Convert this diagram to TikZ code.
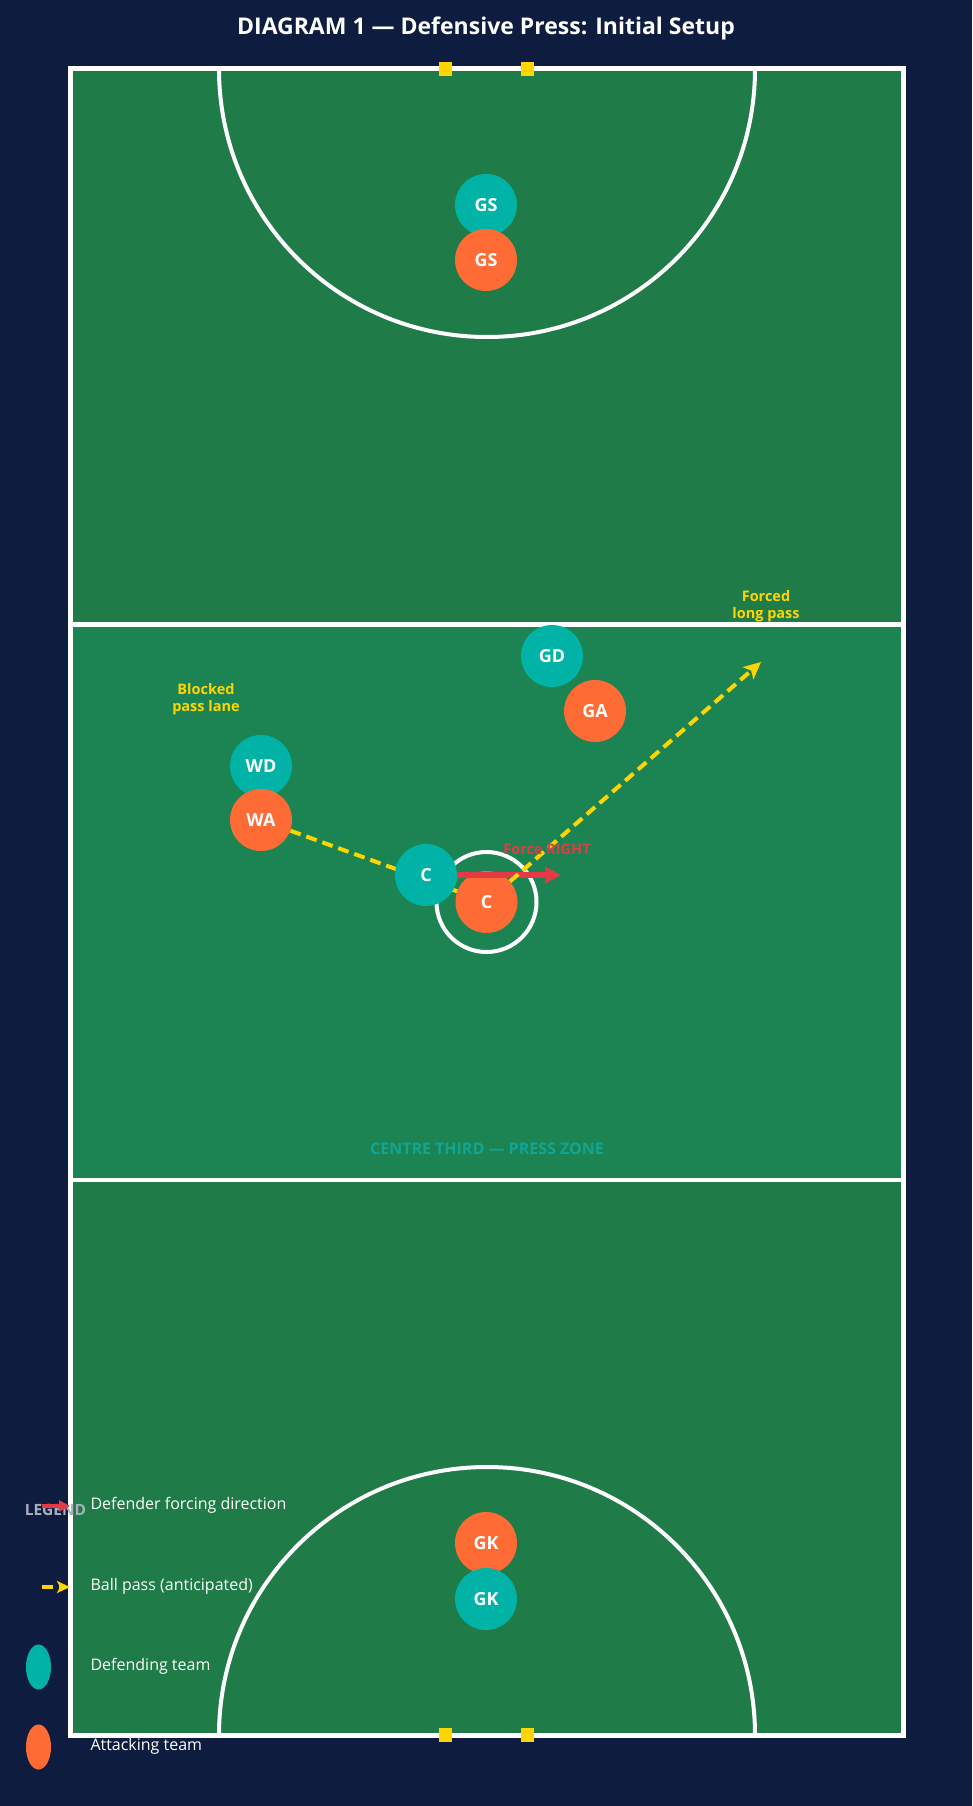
\documentclass[tikz,border=0pt]{standalone}
\usepackage{fontspec}
\setmainfont{Open Sans}
\usepackage{tikz}
\usetikzlibrary{arrows.meta}
\usetikzlibrary{positioning}

\definecolor{navy}{HTML}{0E1C3F}
\definecolor{courtgreen}{HTML}{1F7B47}
\definecolor{centregreen}{HTML}{1B8452}
\definecolor{defteal}{HTML}{00B3A6}
\definecolor{attorange}{HTML}{FF6B35}
\definecolor{passyellow}{HTML}{FFD500}
\definecolor{forcered}{HTML}{E63946}
\definecolor{zoneteal}{HTML}{12A596}
\definecolor{legendgrey}{HTML}{A9B0BC}

\pgfdeclarelayer{court}
\pgfdeclarelayer{lanes}
\pgfsetlayers{court,lanes,main}

\tikzset{
  defender/.style={fill=defteal},
  attacker/.style={fill=attorange},
  pass/.style={draw=passyellow, line width=4pt, dash pattern=on 11pt off 6pt},
  passtip/.style={-{Stealth[length=17pt,width=16pt,inset=4pt]}},
  force/.style={draw=forcered, line width=5.5pt, -{Triangle[length=16pt,width=16pt]}},
  note/.style={font=\bfseries\fontsize{14.5}{16.5}\selectfont, align=center},
  legtext/.style={anchor=west, text=white, font=\fontsize{16}{19}\selectfont},
}

\begin{document}
\begin{tikzpicture}[x=1pt, y=-1pt]
	\useasboundingbox (0,0) rectangle (972,1806);

	% court and markings
	\begin{pgfonlayer}{court}
		\fill[navy] (0,0) rectangle (972,1806);
		\fill[courtgreen] (70.5,69) rectangle (903.5,624.5);
		\fill[centregreen] (70.5,624.5) rectangle (903.5,1180);
		\fill[courtgreen] (70.5,1180) rectangle (903.5,1735);
		\begin{scope}
			\clip (70.5,69) rectangle (903.5,1735);
			\draw[white, line width=4pt] (487,69) circle[radius=268pt];
			\draw[white, line width=4pt] (487,1735) circle[radius=268pt];
		\end{scope}
		\draw[white, line width=4pt] (486.5,902) circle[radius=50pt];
		\draw[white, line width=4.5pt] (70.5,624.5) -- (903.5,624.5);
		\draw[white, line width=4.5pt] (70.5,1180) -- (903.5,1180);
		\draw[white, line width=5pt] (70.5,69) rectangle (903.5,1735);
		\foreach \px in {445,527} {
			\fill[passyellow] (\px-6.5,62) rectangle (\px+6.5,76);
			\fill[passyellow] (\px-6.5,1728) rectangle (\px+6.5,1742);
		}
	\end{pgfonlayer}

	\node[text=white, font=\bfseries\fontsize{23}{27}\selectfont] (title) at (486,28)
		{DIAGRAM 1 — Defensive Press: Initial Setup};
	\node[text=zoneteal, font=\bfseries\fontsize{16}{18}\selectfont] (zone) at (487,1149)
		{CENTRE THIRD — PRESS ZONE};

	% players
	\begin{scope}[every node/.style={circle, minimum size=62pt, inner sep=0pt,
	              text=white, font=\bfseries\fontsize{18}{20}\selectfont}]
		\node[defender] (dGS) at (486,205) {GS};
		\node[attacker] (aGS) at (486,260) {GS};
		\node[defender] (dGD) at (552,656) {GD};
		\node[attacker] (aGA) at (595,711) {GA};
		\node[defender] (dWD) at (261,766) {WD};
		\node[attacker] (aWA) at (261,820) {WA};
		\node[defender] (dC) at (426,875) {C};
		\node[attacker] (aC) at (486.5,902) {C};
		\node[attacker] (aGK) at (486,1543) {GK};
		\node[defender] (dGK) at (486,1599) {GK};
	\end{scope}

	% blocked lane under the players
	\begin{pgfonlayer}{lanes}
		\draw[pass] (aWA) -- (aC);
	\end{pgfonlayer}

	% forcing arrow and long pass
	\coordinate (forceEnd) at (561,875);
	\coordinate (longPass) at (761,662);
	\draw[force] (dC.east) -- (forceEnd);
	\draw[pass, passtip, passyellow] (aC) -- (longPass);

	\node[note, text=forcered] (forceNote) at (547,849) {Force RIGHT};
	\node[note, text=passyellow] (longNote) at (766,606) {Forced\\long pass};
	\node[note, text=passyellow] (blockNote) at (206,699) {Blocked\\pass lane};

	% legend
	\node[text=legendgrey, font=\bfseries\fontsize{15.5}{18}\selectfont] (legend) at (55.5,1510) {LEGEND};
	\coordinate (legForceA) at (42,1506);
	\coordinate (legForceB) at (70,1506);
	\coordinate (legPassA) at (42,1587);
	\coordinate (legPassB) at (70,1587);
	\draw[forcered, line width=3.5pt, -{Triangle[length=11pt,width=11pt]}] (legForceA) -- (legForceB);
	\draw[pass, passyellow, -{Stealth[length=13pt,width=12pt,inset=3pt]}] (legPassA) -- (legPassB);
	\fill[defteal] (38.5,1667) ellipse[x radius=12.5pt, y radius=22.5pt];
	\fill[attorange] (38.5,1747) ellipse[x radius=12.5pt, y radius=22.5pt];
	\node[legtext] (legForce) at (87,1505) {Defender forcing direction};
	\node[legtext] (legPass) at (87,1586) {Ball pass (anticipated)};
	\node[legtext] (legDef) at (87,1666) {Defending team};
	\node[legtext] (legAtt) at (87,1746) {Attacking team};
\end{tikzpicture}
\end{document}
